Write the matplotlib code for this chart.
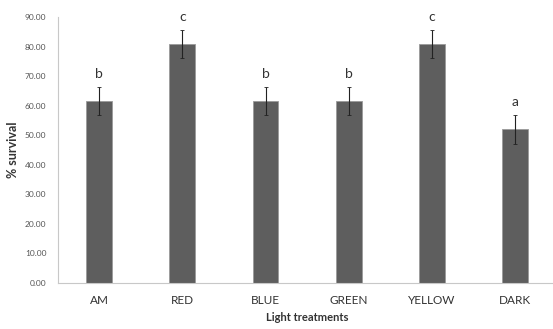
import numpy as np
import matplotlib.pyplot as plt

categories = ['AM', 'RED', 'BLUE', 'GREEN', 'YELLOW', 'DARK']
survival = [61.7, 80.8, 61.7, 61.7, 80.8, 52.0]
errors = [4.8, 4.8, 4.8, 4.8, 4.8, 4.9]
letters = ['b', 'c', 'b', 'b', 'c', 'a']

plt.rcParams['font.family'] = ['Lato', 'DejaVu Sans']

fig = plt.figure(figsize=(5.53, 3.29), dpi=100)
ax = fig.add_axes([0.104, 0.14, 0.903, 0.808])

x = np.arange(len(categories))
ax.bar(x, survival, width=0.31, color='#5e5e5e', edgecolor='#9a9a9a', linewidth=0.6,
       yerr=errors, error_kw=dict(ecolor='#222222', elinewidth=0.8, capsize=1.5, capthick=0.6),
       zorder=2)

for xi, v, e, lab in zip(x, survival, errors, letters):
    ax.annotate(lab, (xi, v + e), xytext=(0, 5), textcoords='offset points',
                ha='center', va='bottom', fontsize=10, color='#333333')

ax.set_xlim(-0.5, len(categories) - 0.5)
ax.set_ylim(0, 90)
ax.set_yticks(np.arange(0, 91, 10))
ax.set_yticklabels([f'{t:.2f}' for t in np.arange(0, 91, 10)], fontsize=6, color='#555555')
ax.set_xticks(x)
ax.set_xticklabels(categories, fontsize=8.5, color='#333333')
ax.tick_params(axis='y', length=0, pad=8)
ax.tick_params(axis='x', length=0, pad=9)

for s in ['top', 'right']:
    ax.spines[s].set_visible(False)
for s in ['left', 'bottom']:
    ax.spines[s].set_color('#c8c8c8')
    ax.spines[s].set_linewidth(0.8)

ax.set_ylabel('% survival', fontsize=9, fontweight='bold', color='#333333', labelpad=4)
ax.set_xlabel('Light treatments', fontsize=8, fontweight='bold', color='#333333', labelpad=4)

fig.savefig('out.png', dpi=100)
